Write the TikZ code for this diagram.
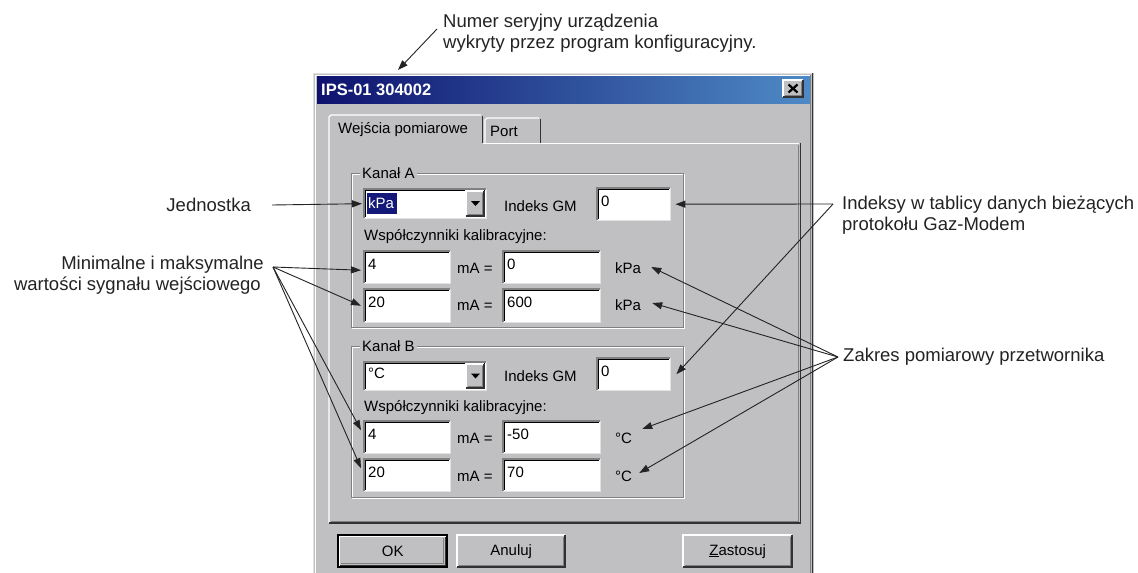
\documentclass[tikz,border=0pt]{standalone}
\usepackage{fontspec}
\setmainfont{Liberation Sans}
\usetikzlibrary{arrows.meta}
\definecolor{dlg}{RGB}{192,192,194}
\definecolor{dlgShadow}{RGB}{128,128,128}
\definecolor{dlgDark}{RGB}{50,50,50}
\definecolor{dlgLight}{RGB}{226,226,226}
\definecolor{titleL}{RGB}{14,18,110}
\definecolor{titleR}{RGB}{78,138,198}
\definecolor{ink}{RGB}{35,35,35}
\definecolor{selnavy}{RGB}{20,24,120}

\newcommand\tbox[6]{%
  \fill[white] (#2,#3) rectangle (#4,#5);
  \node[inner sep=0, minimum width={#4-#2}, minimum height={#5-#3}, anchor=north west] (#1) at (#2,#3) {};
  \draw[dlgShadow, line width=1.2pt] (#2,#5) -- (#2,#3) -- (#4,#3);
  \draw[black, line width=1.2pt] (#2+1.6,#5-1) -- (#2+1.6,#3+1.6) -- (#4-1,#3+1.6);
  \draw[dlgLight, line width=1pt] (#2,#5) -- (#4,#5) -- (#4,#3);
  \node[ui] (#1t) at (#2+4,{(#3+#5)/2-3}) {#6};
}
\newcommand\rbtn[6]{%
  \fill[dlg] (#2,#3) rectangle (#4,#5);
  \node[inner sep=0, minimum width={#4-#2}, minimum height={#5-#3}, anchor=north west] (#1) at (#2,#3) {};
  \draw[white, line width=1.2pt] (#2,#5) -- (#2,#3) -- (#4,#3);
  \draw[dlgDark, line width=1.2pt] (#2,#5) -- (#4,#5) -- (#4,#3);
  \draw[dlgShadow, line width=1pt] (#2+1.6,#5-1.6) -- (#4-1.6,#5-1.6) -- (#4-1.6,#3+1.6);
  \node[ui, anchor=center] (#1t) at (#1.center) {#6};
}
\newcommand\grpbox[6]{%
  \draw[white, line width=1pt] (#2+1,#3+1) rectangle (#4+1,#5+1);
  \draw[dlgShadow, line width=1pt] (#2,#3) rectangle (#4,#5);
  \node[ui, fill=dlg, inner xsep=2pt, inner ysep=1pt] (#1) at (#2+9,#3) {#6};
}

\begin{document}
\begin{tikzpicture}[x=1pt,y=-1pt,
  annot/.style={font=\fontsize{18.5}{21}\selectfont, text=ink, inner sep=0},
  ui/.style={font=\fontsize{15}{17}\selectfont, text=black, inner sep=0, anchor=west},
  arr/.style={draw=ink, line width=0.9pt, -{Triangle[length=10pt,width=7pt]}}]
\useasboundingbox[fill=white] (0,0) rectangle (1138,573);

% window
\fill[dlg] (313,73) rectangle (814,573);
\draw[dlgLight, line width=1.2pt] (313.6,573) -- (313.6,73.6) -- (813,73.6);
\draw[white, line width=1pt] (315.5,573) -- (315.5,75.5) -- (811,75.5);
\draw[dlgDark, line width=1.6pt] (812.6,73) -- (812.6,573);
\draw[dlgShadow, line width=1pt] (810.8,75) -- (810.8,573);
\shade[left color=titleL, right color=titleR] (317,76) rectangle (810,103);
\node[font=\bfseries\fontsize{16.5}{18}\selectfont, text=white, anchor=west, inner sep=0] (title) at (321,90) {IPS-01 304002};
\rbtn{closebtn}{783}{80}{803}{97}{}
\draw[black, line width=2.2pt] (788.5,84.5) -- (797.5,92.5) (788.5,92.5) -- (797.5,84.5);

% tabs and panel
\fill[dlg] (328,115) rectangle (483,145);
\draw[white, line width=1.3pt] (329,523) -- (329,117) -- (331,115) -- (481,115);
\draw[dlgDark, line width=1.3pt] (482.6,116) -- (482.6,143);
\draw[white, line width=1.3pt] (485,143) -- (485,120) -- (487,118) -- (539,118);
\draw[dlgDark, line width=1.5pt] (540.6,119) -- (540.6,143);
\draw[white, line width=1.3pt] (483,143.2) -- (799,143.2);
\draw[dlgDark, line width=1.4pt] (800.3,142.5) -- (800.3,523) -- (328.5,523);
\draw[dlgShadow, line width=1pt] (798.6,145) -- (798.6,521.4) -- (330.5,521.4);
\node[ui] (tab1) at (338,130) {Wejścia pomiarowe};
\node[ui] (tab2) at (490,131) {Port};

% Kanal A
\grpbox{kanA}{351}{173}{683}{327}{Kanał A}
\tbox{comboA}{364}{189}{486}{218}{}
\rbtn{ddA}{466}{191}{484}{216}{}
\fill[black] (471,201) -- (480,201) -- (475.5,206) -- cycle;
\fill[selnavy] (367,193) rectangle (397,214);
\node[ui, text=white] (unitA) at (368,203) {kPa};
\node[ui] (gmA) at (504,206) {Indeks GM};
\tbox{ixA}{597}{188}{670}{220}{0}
\node[ui] (wspA) at (364,237) {Współczynniki kalibracyjne:};
\tbox{a1}{364}{251}{450}{283}{4}
\node[ui] (maA1) at (457,268) {mA =};
\tbox{a1v}{503}{251}{600}{283}{0}
\node[ui] (kpaA1) at (615,268) {kPa};
\tbox{a2}{364}{289}{450}{322}{20}
\node[ui] (maA2) at (457,305) {mA =};
\tbox{a2v}{503}{289}{600}{322}{600}
\node[ui] (kpaA2) at (615,305) {kPa};

% Kanal B
\grpbox{kanB}{351}{346}{683}{497}{Kanał B}
\tbox{comboB}{364}{362}{486}{390}{°C}
\rbtn{ddB}{466}{364}{484}{388}{}
\fill[black] (471,373.5) -- (480,373.5) -- (475.5,378.5) -- cycle;
\node[ui] (gmB) at (504,376) {Indeks GM};
\tbox{ixB}{597}{358}{670}{390}{0}
\node[ui] (wspB) at (364,408) {Współczynniki kalibracyjne:};
\tbox{b1}{364}{421}{450}{453}{4}
\node[ui] (maB1) at (457,438) {mA =};
\tbox{b1v}{503}{421}{600}{453}{-50}
\node[ui] (degB1) at (615,438) {°C};
\tbox{b2}{364}{459}{450}{491}{20}
\node[ui] (maB2) at (457,476) {mA =};
\tbox{b2v}{503}{459}{600}{491}{70}
\node[ui] (degB2) at (615,476) {°C};

% buttons
\draw[black, line width=1.4pt] (338,535) rectangle (447,567);
\rbtn{ok}{339.5}{536.5}{445.5}{565.5}{OK}
\rbtn{anuluj}{457}{535}{565}{567}{Anuluj}
\rbtn{zast}{683}{535}{792}{567}{\underline{Z}astosuj}

% annotations
\node[annot, anchor=west] (numer) at (443,23) {Numer seryjny urządzenia};
\node[annot, anchor=west] (numer2) at (443,44) {wykryty przez program konfiguracyjny.};
\node[annot, anchor=east] (jed) at (251,205) {Jednostka};
\node[annot, anchor=east] (minmax) at (264,265) {Minimalne i maksymalne};
\node[annot, anchor=east] (minmax2) at (261,286) {wartości sygnału wejściowego};
\node[annot, anchor=west] (ind) at (842,205) {Indeksy w tablicy danych bieżących};
\node[annot, anchor=west] (ind2) at (842,226) {protokołu Gaz-Modem};
\node[annot, anchor=west] (zak) at (843,357) {Zakres pomiarowy przetwornika};

\coordinate (numerO) at (437,29);
\coordinate (titleTip) at (398,70);
\coordinate (jedO) at (272,205);
\coordinate (minO) at (273,267);
\coordinate (indO) at (833,204);
\coordinate (zakO) at (838,357);

\draw[arr] (numerO) -- (titleTip);
\draw[arr] (jedO) -- ([xshift=-2pt]comboA.west);
\draw[arr] (minO) -- ([shift={(-3,3)}]a1.west);
\draw[arr] (minO) -- ([shift={(-3,0)}]a2.west);
\draw[arr] (minO) -- ([shift={(-3,-7)}]b1.west);
\draw[arr] (minO) -- ([shift={(-3,-7)}]b2.west);
\draw[arr] (indO) -- ([xshift=5pt]ixA.east);
\draw[arr] (indO) -- ([shift={(6,0)}]ixB.east);
\draw[arr] (zakO) -- ([shift={(10,-1)}]kpaA1.east);
\draw[arr] (zakO) -- ([shift={(11,-2)}]kpaA2.east);
\draw[arr] (zakO) -- ([shift={(10,-9)}]degB1.east);
\draw[arr] (zakO) -- ([shift={(7,-3)}]degB2.east);
\end{tikzpicture}
\end{document}
